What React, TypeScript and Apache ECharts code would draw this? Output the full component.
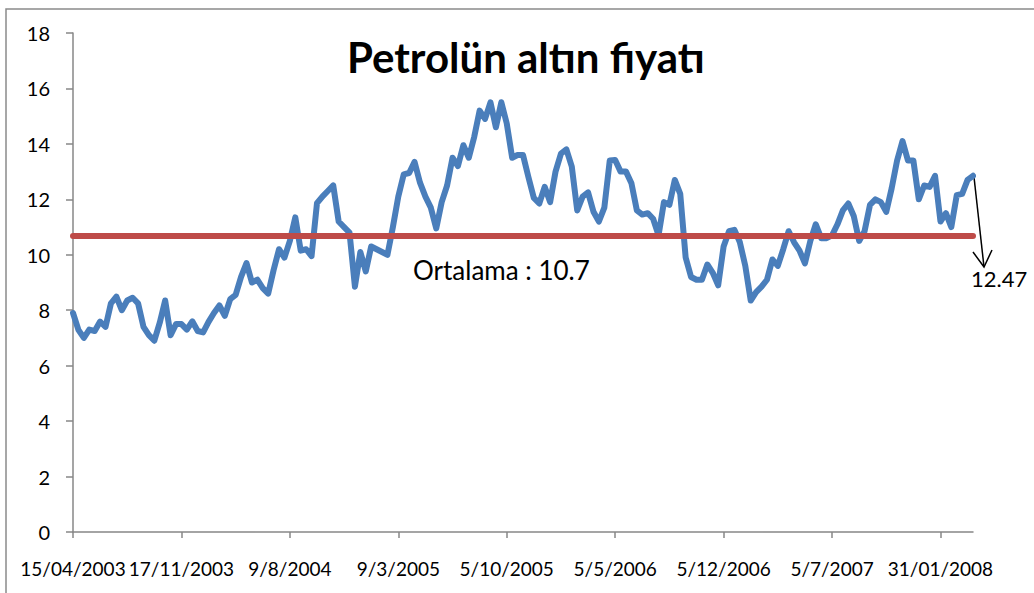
import React, { useEffect, useRef } from "react";
import * as echarts from "echarts";

// Tick labels shown every STEP categories on the x axis
const TICK_LABELS = [
  "15/04/2003", "17/11/2003", "9/8/2004", "9/3/2005", "5/10/2005",
  "5/5/2006", "5/12/2006", "5/7/2007", "31/01/2008",
];
const STEP = 20;

// Petrol price in gold (ratio)
const PRICES = [
  7.9, 7.29, 7.0, 7.3, 7.25, 7.59, 7.4, 8.25, 8.49, 8.0,
  8.35, 8.45, 8.25, 7.4, 7.1, 6.9, 7.55, 8.35, 7.1, 7.5,
  7.5, 7.3, 7.6, 7.25, 7.2, 7.58, 7.9, 8.17, 7.8, 8.4,
  8.55, 9.2, 9.7, 9.0, 9.1, 8.8, 8.6, 9.45, 10.2, 9.9,
  10.5, 11.35, 10.15, 10.2, 9.95, 11.86, 12.1, 12.3, 12.5, 11.2,
  11.0, 10.8, 8.85, 10.1, 9.4, 10.3, 10.2, 10.1, 10.0, 11.0,
  12.1, 12.9, 12.95, 13.35, 12.6, 12.1, 11.7, 10.95, 11.9, 12.5,
  13.5, 13.2, 13.95, 13.5, 14.25, 15.2, 14.9, 15.5, 14.6, 15.5,
  14.74, 13.5, 13.6, 13.6, 12.8, 12.05, 11.85, 12.45, 11.9, 13.0,
  13.65, 13.8, 13.18, 11.6, 12.1, 12.25, 11.55, 11.2, 11.7, 13.4,
  13.42, 13.0, 13.0, 12.58, 11.6, 11.45, 11.5, 11.3, 10.7, 11.9,
  11.8, 12.7, 12.2, 9.9, 9.2, 9.1, 9.1, 9.65, 9.35, 8.9,
  10.3, 10.85, 10.9, 10.45, 9.6, 8.35, 8.65, 8.85, 9.1, 9.83,
  9.6, 10.2, 10.85, 10.45, 10.15, 9.69, 10.5, 11.1, 10.6, 10.6,
  10.7, 11.1, 11.6, 11.85, 11.4, 10.5, 10.85, 11.8, 12.0, 11.9,
  11.55, 12.4, 13.4, 14.1, 13.4, 13.4, 12.0, 12.5, 12.45, 12.85,
  11.2, 11.5, 11.0, 12.15, 12.2, 12.7, 12.85,
];

const MEAN = 10.7;
const LAST_LABEL = "12.47";
const TITLE = "Petrolün altın fiyatı";
const MEAN_LABEL = "Ortalama : " + MEAN;

const Y_MIN = 0;
const Y_MAX = 18;
const Y_INTERVAL = 2;

export default function App() {
  const ref = useRef<HTMLDivElement>(null);

  useEffect(() => {
    if (!ref.current) return;
    const chart = echarts.init(ref.current, null, { renderer: "svg" });
    const categories = PRICES.map((_, i) =>
      i % STEP === 0 && TICK_LABELS[i / STEP] ? TICK_LABELS[i / STEP] : ""
    );
    const font = "Lato, 'Noto Sans', sans-serif";
    const axisColor = "#878787";

    chart.setOption({
      animation: false,
      backgroundColor: "#ffffff",
      textStyle: { fontFamily: font },
      grid: {
        left: 73,
        right: 61,
        top: 33,
        bottom: 61,
        containLabel: false,
        outerBoundsMode: "none",
      },
      xAxis: {
        type: "category",
        data: categories,
        boundaryGap: false,
        axisLine: { show: true, lineStyle: { color: axisColor, width: 1.5 } },
        axisTick: {
          show: true,
          interval: STEP - 1,
          length: 6,
          lineStyle: { color: axisColor, width: 1.5 },
        },
        axisLabel: {
          interval: STEP - 1,
          color: "#000",
          fontSize: 19,
          fontFamily: font,
          margin: 27,
        },
        splitLine: { show: false },
      },
      yAxis: {
        type: "value",
        min: Y_MIN,
        max: Y_MAX,
        interval: Y_INTERVAL,
        axisLine: { show: true, lineStyle: { color: axisColor, width: 1.5 } },
        axisTick: { show: true, length: 7, lineStyle: { color: axisColor, width: 1.5 } },
        axisLabel: { color: "#000", fontSize: 20, fontFamily: font, margin: 23 },
        splitLine: { show: false },
      },
      series: [
        {
          type: "line",
          data: PRICES,
          showSymbol: false,
          symbol: "none",
          lineStyle: { color: "#4A7EBB", width: 6, join: "round", cap: "round" },
          z: 2,
          markLine: {
            silent: true,
            symbol: "none",
            label: { show: false },
            lineStyle: { color: "#BE4B48", width: 6, type: "solid", cap: "round" },
            data: [{ yAxis: MEAN }],
            z: 3,
          },
        },
      ],
      graphic: [
        {
          type: "rect",
          shape: { x: 6, y: 9, width: 1040, height: 620 },
          style: { fill: "none", stroke: "#8a8a8a", lineWidth: 1.5 },
          silent: true,
        },
        {
          type: "text",
          x: 347,
          y: 36,
          style: {
            text: TITLE,
            font: `bold 42px ${font}`,
            fill: "#000",
          },
        },
        {
          type: "text",
          x: 413,
          y: 270,
          style: {
            text: MEAN_LABEL,
            font: `26px ${font}`,
            fill: "#000",
            textVerticalAlign: "middle",
          },
        },
        {
          type: "line",
          shape: { x1: 974, y1: 177, x2: 984, y2: 267 },
          style: { stroke: "#000", lineWidth: 1.5 },
        },
        {
          type: "polyline",
          shape: { points: [[973, 252], [984, 267], [992, 250]] },
          style: { stroke: "#000", lineWidth: 1.5, fill: "none" },
        },
        {
          type: "text",
          x: 971,
          y: 278,
          style: {
            text: LAST_LABEL,
            font: `22px ${font}`,
            fill: "#000",
            textVerticalAlign: "middle",
          },
        },
      ],
    });

    return () => chart.dispose();
  }, []);

  return (
    <div
      ref={ref}
      style={{ position: "fixed", left: 0, top: 0, width: 1034, height: 593 }}
    />
  );
}
